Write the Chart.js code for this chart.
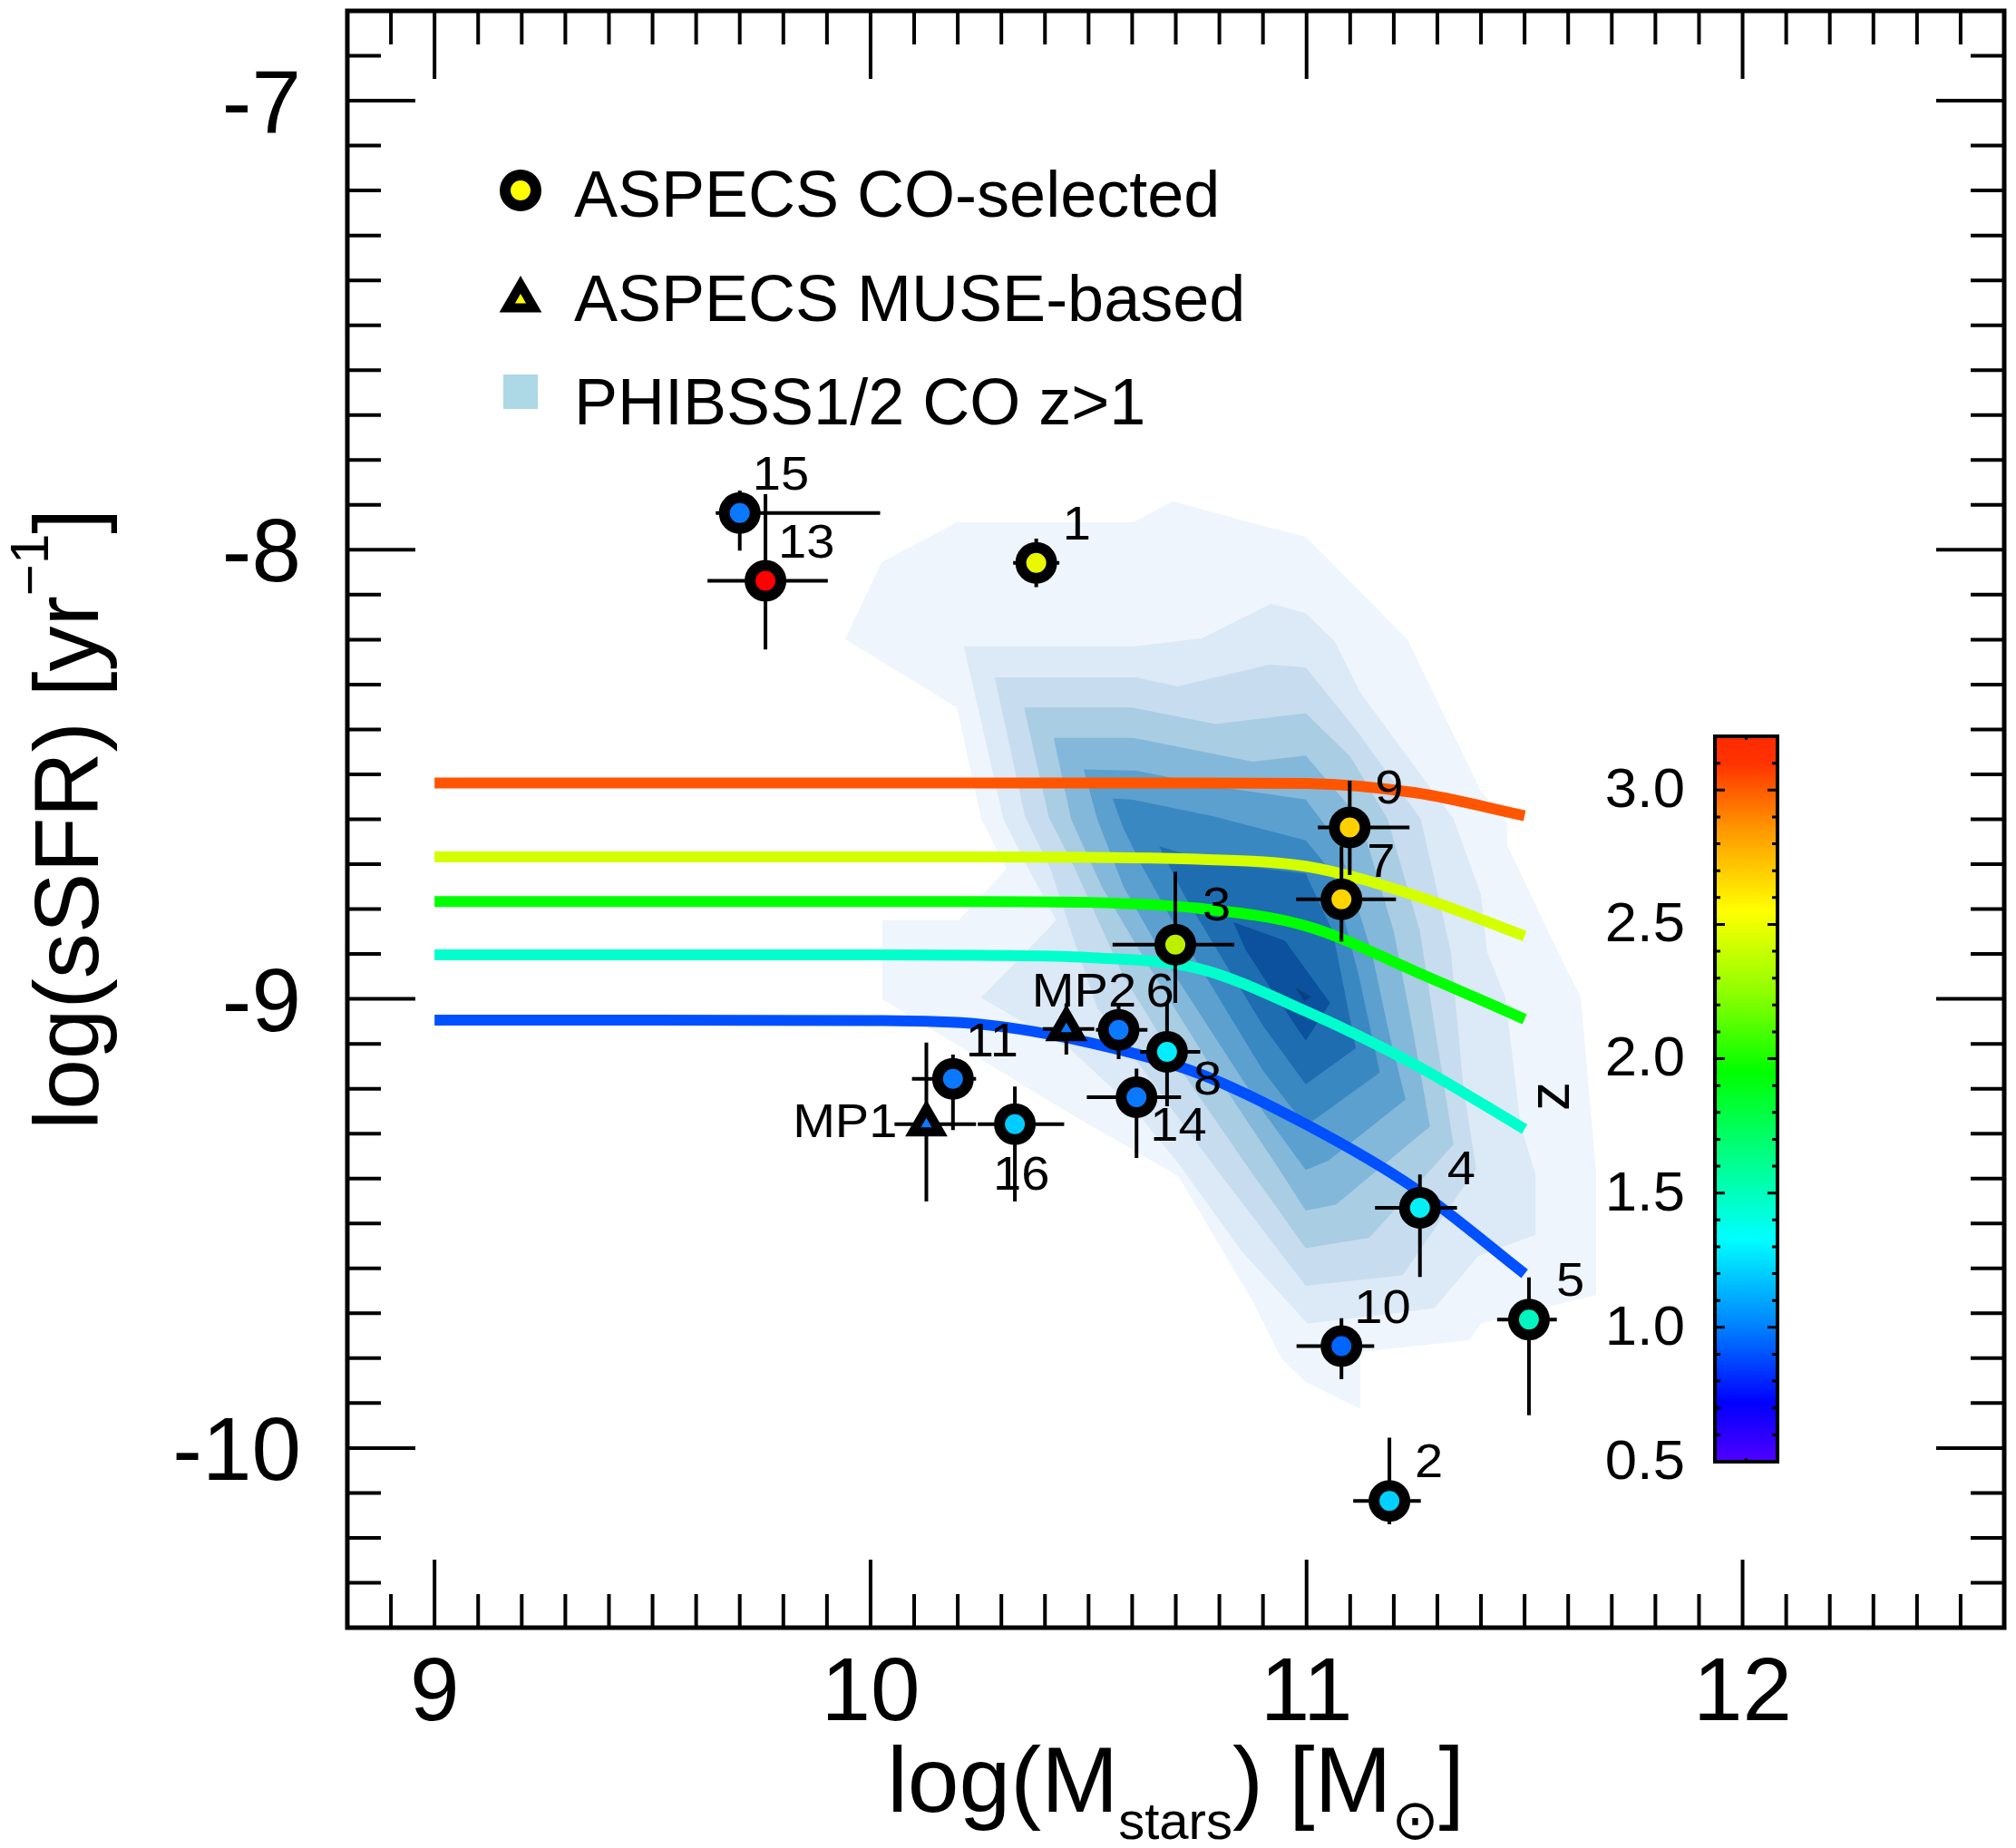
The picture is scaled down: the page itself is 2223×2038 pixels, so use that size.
<!DOCTYPE html>
<html>
<head>
<meta charset="utf-8">
<title>sSFR vs stellar mass</title>
<script src="https://cdn.jsdelivr.net/npm/chart.js@4.4.1/dist/chart.umd.min.js"></script>
<style>
  html, body { margin: 0; padding: 0; background: #fff; }
  #wrap { width: 2223px; height: 2038px; }
</style>
</head>
<body>
<div id="wrap"><canvas id="chart" width="2223" height="2038"></canvas></div>
<script>
// ---- axis ticks ----
const xTicks = [9, 10, 11, 12];
const yTicks = [-7, -8, -9, -10];
const zTicks = [0.5, 1.0, 1.5, 2.0, 2.5, 3.0];

// ---- ASPECS CO-selected galaxies ----
const coIds       = ['1', '2', '3', '4', '5', '6', '7', '8', '9', '10', '11', '13', '14', '15', '16'];
const coMass      = [10.380, 11.190, 10.699, 11.260, 11.510, 10.569, 11.080, 10.680, 11.099, 11.080, 10.189, 9.759, 10.610, 9.700, 10.331];
const coSsfr      = [-8.029, -10.118, -8.879, -9.465, -9.714, -9.069, -8.778, -9.118, -8.618, -9.773, -9.178, -8.069, -9.219, -7.918, -9.279];
const coMassErrLo = [0.053, 0.083, 0.144, 0.103, 0.073, 0.052, 0.104, 0.062, 0.073, 0.103, 0.094, 0.133, 0.114, 0.055, 0.085];
const coMassErrHi = [0.053, 0.072, 0.135, 0.085, 0.064, 0.066, 0.125, 0.076, 0.137, 0.075, 0.053, 0.143, 0.102, 0.322, 0.113];
const coSsfrErrLo = [0.054, 0.052, 0.130, 0.154, 0.213, 0.065, 0.094, 0.121, 0.106, 0.074, 0.114, 0.153, 0.135, 0.084, 0.172];
const coSsfrErrHi = [0.054, 0.141, 0.162, 0.074, 0.094, 0.053, 0.118, 0.108, 0.104, 0.062, 0.054, 0.193, 0.064, 0.050, 0.084];
const coColors    = ['#e8f800', '#00d0ff', '#bdf000', '#05f0f5', '#00f5c0', '#0a78ff', '#ffd500', '#00eeff', '#ffd000', '#0066ff', '#0a78ff', '#ff0000', '#0a78ff', '#0a78ff', '#00ccff'];

// ---- ASPECS MUSE-based galaxies ----
const museIds       = ['MP1', 'MP2'];
const museMass      = [10.128, 10.449];
const museSsfr      = [-9.279, -9.067];
const museMassErrLo = [0.073, 0.054];
const museMassErrHi = [0.114, 0.064];
const museSsfrErrLo = [0.172, 0.057];
const museSsfrErrHi = [0.182, 0.057];
const museColors    = ['#0a78ff', '#0a78ff'];

// ---- main-sequence tracks at several redshifts ----
const msMass = [9.0, 9.5, 10.0, 10.25, 10.5, 10.75, 11.0, 11.25, 11.5];
const msZ3p0 = [-8.519, -8.519, -8.519, -8.519, -8.519, -8.519, -8.520, -8.541, -8.592];
const msZ2p4 = [-8.684, -8.684, -8.684, -8.684, -8.685, -8.689, -8.705, -8.770, -8.860];
const msZ2p0 = [-8.783, -8.783, -8.783, -8.783, -8.785, -8.798, -8.838, -8.939, -9.045];
const msZ1p4 = [-8.902, -8.902, -8.902, -8.903, -8.908, -8.932, -9.028, -9.147, -9.290];
const msZ0p9 = [-9.047, -9.047, -9.048, -9.056, -9.097, -9.165, -9.280, -9.423, -9.612];

// ---- PHIBSS1/2 CO z>1 density contours (outer to inner) ----
const phibss1 = [[9.942,-8.199],[10.025,-8.028],[10.198,-7.939],[10.603,-7.939],[10.693,-7.892],[10.915,-7.951],[10.998,-7.971],[11.231,-8.199],[11.400,-8.538],[11.460,-8.607],[11.460,-8.658],[11.587,-8.916],[11.629,-8.997],[11.664,-9.389],[11.664,-9.659],[11.400,-9.723],[11.373,-9.760],[11.123,-9.786],[11.123,-9.913],[10.998,-9.853],[10.942,-9.800],[10.880,-9.679],[10.707,-9.396],[10.609,-9.340],[10.464,-9.259],[10.027,-9.001],[10.027,-8.825],[10.202,-8.825],[10.312,-8.710],[10.254,-8.599],[10.198,-8.351]];
const phibss2 = [[10.214,-8.215],[10.607,-8.215],[10.759,-8.197],[10.919,-8.120],[10.998,-8.141],[11.065,-8.205],[11.123,-8.318],[11.290,-8.538],[11.337,-8.599],[11.400,-8.768],[11.414,-8.896],[11.456,-8.997],[11.491,-9.283],[11.525,-9.391],[11.525,-9.525],[11.394,-9.572],[11.293,-9.689],[11.002,-9.723],[10.850,-9.560],[10.707,-9.367],[10.600,-9.240],[10.458,-9.112],[10.253,-8.997],[10.336,-8.916],[10.426,-8.825],[10.361,-8.708],[10.305,-8.600]];
const phibss3 = [[10.285,-8.284],[10.607,-8.284],[10.704,-8.304],[10.915,-8.256],[10.998,-8.262],[11.116,-8.404],[11.262,-8.600],[11.331,-8.896],[11.360,-9.200],[11.389,-9.378],[11.220,-9.615],[10.998,-9.639],[10.784,-9.367],[10.650,-9.190],[10.520,-9.020],[10.460,-8.850],[10.413,-8.711],[10.354,-8.593]];
const phibss4 = [[10.352,-8.351],[10.600,-8.351],[10.791,-8.388],[10.998,-8.364],[11.100,-8.460],[11.186,-8.600],[11.260,-8.850],[11.300,-9.100],[11.337,-9.324],[11.144,-9.532],[10.998,-9.555],[10.860,-9.367],[10.720,-9.170],[10.580,-8.950],[10.464,-8.700],[10.409,-8.596]];
const phibss5 = [[10.420,-8.419],[10.603,-8.419],[10.877,-8.472],[10.998,-8.458],[11.123,-8.600],[11.200,-8.850],[11.240,-9.050],[11.283,-9.284],[11.067,-9.458],[10.998,-9.471],[10.929,-9.367],[10.780,-9.150],[10.640,-8.930],[10.530,-8.750],[10.460,-8.600]];
const phibss6 = [[10.489,-8.489],[10.610,-8.492],[10.784,-8.526],[10.998,-8.556],[11.071,-8.650],[11.150,-8.900],[11.190,-9.080],[11.227,-9.224],[11.050,-9.360],[10.998,-9.381],[10.900,-9.250],[10.800,-9.100],[10.680,-8.920],[10.580,-8.750],[10.520,-8.600]];
const phibss7 = [[10.555,-8.554],[10.600,-8.556],[10.784,-8.593],[10.998,-8.647],[11.060,-8.720],[11.120,-8.950],[11.168,-9.164],[10.998,-9.283],[10.900,-9.160],[10.800,-9.000],[10.700,-8.840],[10.620,-8.700],[10.580,-8.620]];
const phibss8 = [[10.662,-8.660],[10.784,-8.696],[10.998,-8.721],[11.060,-8.850],[11.113,-9.110],[10.998,-9.190],[10.900,-9.060],[10.800,-8.900],[10.720,-8.770]];
const phibss9 = [[10.832,-8.829],[10.950,-8.870],[11.054,-9.009],[10.998,-9.093],[10.920,-8.980],[10.860,-8.890]];
const phibss10 = [[10.975,-8.975],[11.010,-8.995],[10.995,-9.005]];

const phibssLevels = [phibss1, phibss2, phibss3, phibss4, phibss5, phibss6, phibss7, phibss8, phibss9, phibss10];
const phibssColors = ['#eef5fc', '#dce9f6', '#c7dcef', '#a9cde3', '#83b8da', '#5ba0ce', '#3a88c2', '#1f6db1', '#0b519d', '#08407f'];

// label placement next to each galaxy (pixels from the marker centre)
const labelOffsets = {
  '1': [29, -26], '2': [28, -26], '3': [30, -27], '4': [30, -26], '5': [30, -26],
  '6': [30, -26], '7': [28, -25], '8': [29, 47], '9': [28, -26], '10': [14, -25],
  '11': [14, -25], '13': [14, -26], '14': [15, 48], '15': [14, -26], '16': [-24, 72],
  'MP1': [-32, 14, 'right'], 'MP2': [-38, -25]
};

const FONT = '"Liberation Sans", Arial, Helvetica, sans-serif';

function toPoints(xs, ys) {
  return xs.map((x, i) => ({ x: x, y: ys[i] }));
}

// error bars as one broken line: left-right, gap, top-bottom, gap
function errorBarPoints(mass, ssfr, mLo, mHi, sLo, sHi) {
  const pts = [];
  for (let i = 0; i < mass.length; i++) {
    pts.push({ x: mass[i] - mLo[i], y: ssfr[i] }, { x: mass[i] + mHi[i], y: ssfr[i] }, { x: mass[i], y: null });
    pts.push({ x: mass[i], y: ssfr[i] + sHi[i] }, { x: mass[i], y: ssfr[i] - sLo[i] }, { x: mass[i], y: null });
  }
  return pts;
}

function trackDataset(ys, color) {
  return {
    data: toPoints(msMass, ys),
    showLine: true,
    borderColor: color,
    borderWidth: 12,
    pointRadius: 0,
    cubicInterpolationMode: 'monotone',
    order: 3
  };
}

// filled contours, drawn under every dataset
const contourPlugin = {
  id: 'phibssContours',
  beforeDatasetsDraw(chart) {
    const { ctx, chartArea: a, scales: { x, y } } = chart;
    ctx.save();
    ctx.beginPath();
    ctx.rect(a.left, a.top, a.width, a.height);
    ctx.clip();
    phibssLevels.forEach((poly, i) => {
      ctx.beginPath();
      poly.forEach(([m, s], j) => {
        const px = x.getPixelForValue(m);
        const py = y.getPixelForValue(s);
        if (j === 0) ctx.moveTo(px, py); else ctx.lineTo(px, py);
      });
      ctx.closePath();
      ctx.fillStyle = phibssColors[i];
      ctx.fill();
    });
    ctx.restore();
  }
};

function drawTriangle(ctx, cx, cy, r, fill, bw) {
  ctx.beginPath();
  for (let k = 0; k < 3; k++) {
    const rad = k * 2 * Math.PI / 3;
    const px = cx + Math.sin(rad) * r;
    const py = cy - Math.cos(rad) * r;
    if (k === 0) ctx.moveTo(px, py); else ctx.lineTo(px, py);
  }
  ctx.closePath();
  ctx.fillStyle = fill;
  ctx.fill();
  ctx.lineWidth = bw;
  ctx.strokeStyle = '#000';
  ctx.stroke();
}

// text slightly widened, like the original figure's lettering
function wideText(ctx, text, px, py, align, stretch) {
  ctx.save();
  ctx.translate(px, py);
  ctx.scale(stretch, 1);
  ctx.textAlign = align;
  ctx.fillText(text, 0, 0);
  ctx.restore();
}

const decorPlugin = {
  id: 'decor',
  afterDatasetsDraw(chart) {
    const { ctx, chartArea: a, scales: { x, y } } = chart;
    ctx.save();

    // galaxy labels
    ctx.fillStyle = '#000';
    ctx.font = '51px ' + FONT;
    ctx.textBaseline = 'alphabetic';
    const putLabel = (id, m, s) => {
      const off = labelOffsets[id];
      wideText(ctx, id, x.getPixelForValue(m) + off[0], y.getPixelForValue(s) + off[1], off[2] || 'left', 1.1);
    };
    coIds.forEach((id, i) => putLabel(id, coMass[i], coSsfr[i]));
    museIds.forEach((id, i) => putLabel(id, museMass[i], museSsfr[i]));

    // legend
    ctx.beginPath();
    ctx.arc(574, 210, 17, 0, Math.PI * 2);
    ctx.fillStyle = '#ffff00';
    ctx.fill();
    ctx.lineWidth = 12;
    ctx.strokeStyle = '#000';
    ctx.stroke();
    ctx.lineJoin = 'miter';
    drawTriangle(ctx, 574, 331, 17, '#ffff00', 10);
    ctx.fillStyle = '#add8e6';
    ctx.fillRect(555, 413, 38, 38);
    ctx.fillStyle = '#000';
    ctx.font = '72px ' + FONT;
    ctx.textAlign = 'left';
    ctx.fillText('ASPECS CO-selected', 633, 239);
    ctx.fillText('ASPECS MUSE-based', 633, 354);
    ctx.fillText('PHIBSS1/2 CO z>1', 633, 468);

    // inward ticks on all four sides
    ctx.strokeStyle = '#000';
    ctx.lineWidth = 4;
    ctx.beginPath();
    for (let k = 89; k <= 125; k++) {
      const px = x.getPixelForValue(k / 10);
      const len = k % 10 === 0 ? 75 : 37;
      ctx.moveTo(px, a.bottom); ctx.lineTo(px, a.bottom - len);
      ctx.moveTo(px, a.top); ctx.lineTo(px, a.top + len);
    }
    for (let k = -103; k <= -69; k++) {
      const py = y.getPixelForValue(k / 10);
      const len = k % 10 === 0 ? 75 : 37;
      ctx.moveTo(a.left, py); ctx.lineTo(a.left + len, py);
      ctx.moveTo(a.right, py); ctx.lineTo(a.right - len, py);
    }
    ctx.stroke();
    ctx.lineWidth = 5;
    ctx.strokeRect(a.left, a.top, a.width, a.height);

    // tick labels
    ctx.fillStyle = '#000';
    ctx.font = '98px ' + FONT;
    ctx.textAlign = 'center';
    xTicks.forEach(t => ctx.fillText(String(t), x.getPixelForValue(t), 1897));
    ctx.textAlign = 'right';
    yTicks.forEach(t => ctx.fillText(String(t), a.left - 51, y.getPixelForValue(t) + 35));

    // x title: log(M_stars) [M_sun]
    const mainF = '102px ' + FONT;
    const subF = '58px ' + FONT;
    const sunF = '62px "DejaVu Sans", ' + FONT;
    const xParts = [
      ['log(M', mainF, 0], ['stars', subF, 30], [') [M', mainF, 0], ['\u2299', sunF, 30], [']', mainF, 0]
    ];
    let total = 0;
    xParts.forEach(p => { ctx.font = p[1]; total += ctx.measureText(p[0]).width; });
    let cx = (a.left + a.right) / 2 - total / 2;
    ctx.textAlign = 'left';
    xParts.forEach(p => {
      ctx.font = p[1];
      ctx.fillText(p[0], cx, 1998 + p[2]);
      cx += ctx.measureText(p[0]).width;
    });

    // y title: log(sSFR) [yr^-1]
    const yMainF = '100px ' + FONT;
    const yParts = [['log(sSFR) [yr', yMainF, 0], ['\u22121', '60px ' + FONT, -55], [']', yMainF, 0]];
    total = 0;
    yParts.forEach(p => { ctx.font = p[1]; total += ctx.measureText(p[0]).width; });
    ctx.save();
    ctx.translate(108, (a.top + a.bottom) / 2 + total / 2);
    ctx.rotate(-Math.PI / 2);
    let cy = 0;
    yParts.forEach(p => {
      ctx.font = p[1];
      ctx.fillText(p[0], cy, p[2]);
      cy += ctx.measureText(p[0]).width;
    });
    ctx.restore();

    // colour bar for redshift
    const cbL = 1891, cbR = 1960, cbT = 812, cbB = 1612, zMin = 0.5, zMax = 3.2;
    const zPix = z => cbB - (z - zMin) / (zMax - zMin) * (cbB - cbT);
    const grad = ctx.createLinearGradient(0, cbB, 0, cbT);
    [[0.5, '#5000ff'], [0.72, '#0000ff'], [1.0, '#0080ff'], [1.33, '#00ffff'], [1.65, '#00ff80'],
     [1.95, '#00ff00'], [2.25, '#90ff00'], [2.55, '#ffff00'], [2.85, '#ff9900'], [3.1, '#ff3300'], [3.2, '#ff2a00']]
      .forEach(([z, c]) => grad.addColorStop((z - zMin) / (zMax - zMin), c));
    ctx.fillStyle = grad;
    ctx.fillRect(cbL, cbT, cbR - cbL, cbB - cbT);
    ctx.strokeStyle = '#000';
    ctx.lineWidth = 3;
    ctx.beginPath();
    for (let k = 6; k <= 31; k++) {
      const py = zPix(k / 10);
      const len = k % 5 === 0 ? 11 : 6;
      ctx.moveTo(cbL, py); ctx.lineTo(cbL + len, py);
      ctx.moveTo(cbR, py); ctx.lineTo(cbR - len, py);
    }
    ctx.moveTo((cbL + cbR) / 2, cbT); ctx.lineTo((cbL + cbR) / 2, cbT + 4);
    ctx.moveTo((cbL + cbR) / 2, cbB); ctx.lineTo((cbL + cbR) / 2, cbB - 4);
    ctx.stroke();
    ctx.lineWidth = 4;
    ctx.strokeRect(cbL, cbT, cbR - cbL, cbB - cbT);
    ctx.fillStyle = '#000';
    ctx.font = '61px ' + FONT;
    ctx.textBaseline = 'middle';
    zTicks.forEach(z => wideText(ctx, z.toFixed(1), 1858, zPix(z) + 2, 'right', 1.04));

    // colour bar title
    ctx.save();
    ctx.translate(1716, 1209);
    ctx.rotate(-Math.PI / 2);
    ctx.textAlign = 'center';
    ctx.textBaseline = 'middle';
    ctx.font = '64px ' + FONT;
    ctx.fillText('z', 0, -4);
    ctx.restore();

    ctx.restore();
  }
};

const chart = new Chart(document.getElementById('chart'), {
  type: 'scatter',
  data: {
    datasets: [
      trackDataset(msZ3p0, '#ff5500'),
      trackDataset(msZ2p4, '#d4ff00'),
      trackDataset(msZ2p0, '#00ff00'),
      trackDataset(msZ1p4, '#00ffcc'),
      trackDataset(msZ0p9, '#0050ff'),
      {
        data: errorBarPoints(coMass, coSsfr, coMassErrLo, coMassErrHi, coSsfrErrLo, coSsfrErrHi)
          .concat(errorBarPoints(museMass, museSsfr, museMassErrLo, museMassErrHi, museSsfrErrLo, museSsfrErrHi)),
        showLine: true,
        spanGaps: false,
        borderColor: '#000',
        borderWidth: 4,
        pointRadius: 0,
        order: 2
      },
      {
        label: 'ASPECS CO-selected',
        data: toPoints(coMass, coSsfr),
        pointRadius: 17,
        pointBorderWidth: 12,
        pointBorderColor: '#000',
        pointBackgroundColor: coColors,
        order: 1
      },
      {
        label: 'ASPECS MUSE-based',
        data: toPoints(museMass, museSsfr),
        pointStyle: 'triangle',
        pointRadius: 17,
        pointBorderWidth: 10,
        pointBorderColor: '#000',
        pointBackgroundColor: museColors,
        order: 1
      }
    ]
  },
  options: {
    responsive: false,
    animation: false,
    devicePixelRatio: 1,
    events: [],
    layout: { autoPadding: false, padding: { left: 383, right: 13, top: 12, bottom: 243 } },
    scales: {
      x: { type: 'linear', min: 8.8, max: 12.6, display: false },
      y: { type: 'linear', min: -10.4, max: -6.8, display: false }
    },
    plugins: {
      legend: { display: false },
      tooltip: { enabled: false }
    }
  },
  plugins: [contourPlugin, decorPlugin]
});
</script>
</body>
</html>
